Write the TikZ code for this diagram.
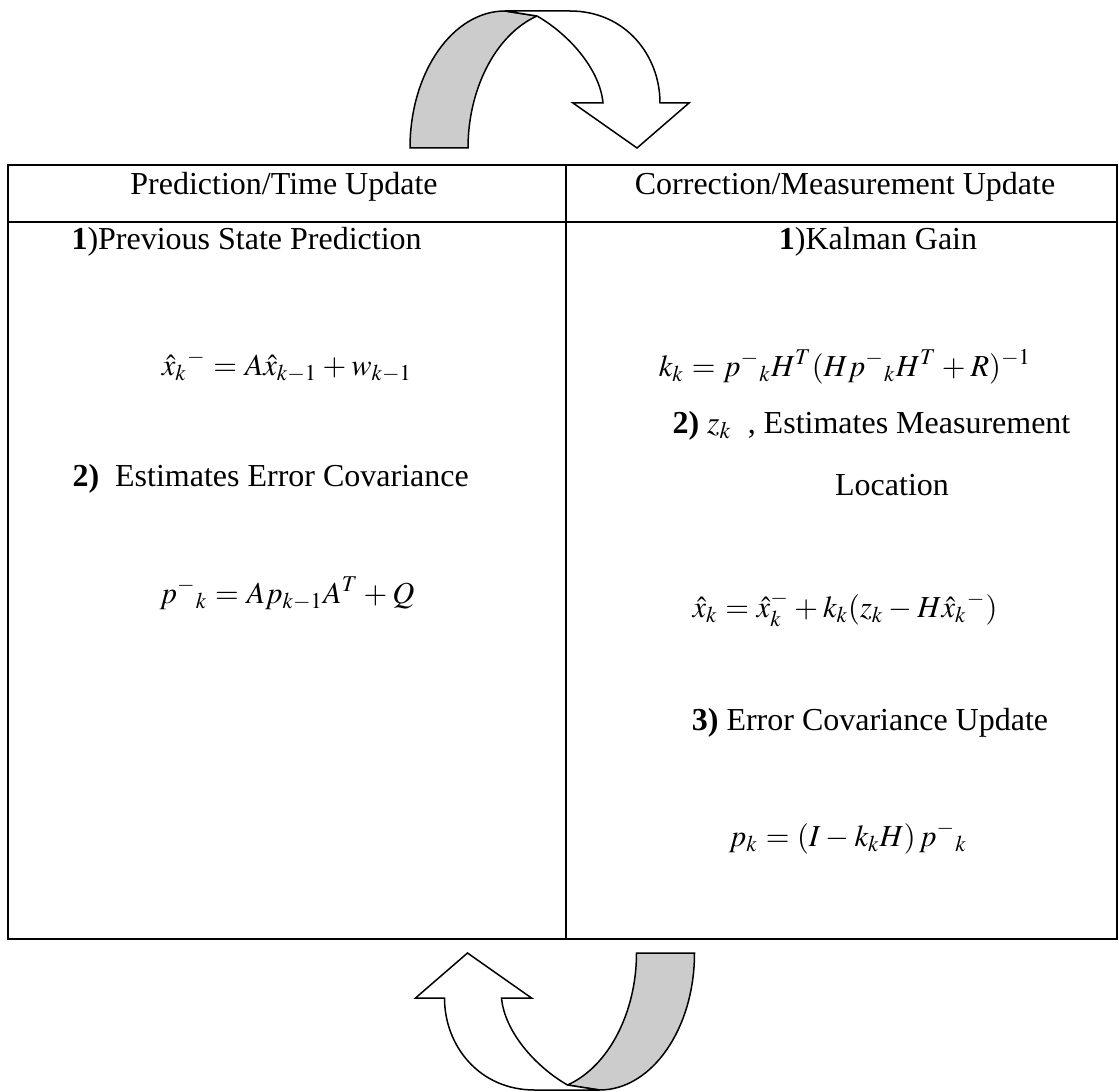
\documentclass[tikz,border=0pt]{standalone}
\usepackage{amsmath}
\usepackage{mathptmx}
\usepackage[no-math]{fontspec}
\setmainfont{Liberation Serif}
\usepackage{tikz}
\definecolor{FigureInk}{gray}{0}
\definecolor{BandShade}{gray}{0.8}
\newcommand{\CycleArrow}{%
  \draw[bandback] (410,148) .. controls (410,72) and (453,11) .. (505,11)
    -- (537,16) .. controls (495,35) and (468,90) .. (468,148) -- cycle;
  \draw[bandfront] (505,11) -- (570,11) .. controls (625,11) and (660,55) .. (660,103)
    -- (689,103) -- (637,148) -- (573,103) -- (603,103)
    .. controls (600,70) and (570,35) .. (537,16) -- cycle;
}
\newcommand{\TightMath}{\thickmuskip=4.5mu\medmuskip=3mu}
\tikzset{
  figure/.style={x=0.4pt,y=-0.4pt,font=\fontsize{12.8}{15}\selectfont,text=FigureInk},
  tablerule/.style={draw=FigureInk,line width=0.9pt},
  bandback/.style={draw=FigureInk,line width=0.6pt,fill=BandShade},
  bandfront/.style={draw=FigureInk,line width=0.6pt,fill=white},
  entry/.style={anchor=base,inner sep=0pt},
  leftentry/.style={anchor=base west,inner sep=0pt},
  formula/.style={entry,font=\fontsize{12.2}{14}\selectfont\TightMath},
}

\begin{document}
\begin{tikzpicture}[figure]
  \useasboundingbox (0,0) rectangle (1119,1092);

  \draw[tablerule] (8,165) rectangle (1117,939);
  \draw[tablerule] (8,222) -- (1117,222);
  \draw[tablerule] (566,165) -- (566,939);

  % cycle arrows above and below the table
  \CycleArrow
  \begin{scope}[rotate around={180:(552.25,550.5)}]
    \CycleArrow
  \end{scope}

  \node[entry] (predhead) at (284,195) {Prediction/Time Update};
  \node[entry] (corrhead) at (845,195) {Correction/Measurement Update};

  \node[leftentry] (prevstate) at (71,249) {\textbf{1})Previous State Prediction};
  \node[formula] (statepred) at (287,375) {$\hat{x}_k{}^{-} = A\hat{x}_{k-1} + w_{k-1}$};
  \node[leftentry] (errcov) at (72,486) {\textbf{2)}\hspace{0.5em}Estimates Error Covariance};
  \node[formula] (covpred) at (287,603) {$p^{-}{}_{k} = Ap_{k-1}A^{T} + Q$};

  \node[entry] (gainhead) at (878,249) {\textbf{1})Kalman Gain};
  \node[formula] (gain) at (845,376) {$k_k = p^{-}{}_{k}H^{T}(Hp^{-}{}_{k}H^{T} + R)^{-1}$};
  \node[leftentry] (meashead) at (672,433) {\textbf{2)} $z_k$\enspace, Estimates Measurement};
  \node[entry] (location) at (892,495) {Location};
  \node[formula] (stateupd) at (845,617) {$\hat{x}_k = \hat{x}_k^{-} + k_k(z_k - H\hat{x}_k{}^{-})$};
  \node[entry] (covhead) at (870,730) {\textbf{3)} Error Covariance Update};
  \node[formula] (covupd) at (848,846) {$p_k = (I - k_kH)\,p^{-}{}_{k}$};
\end{tikzpicture}
\end{document}
